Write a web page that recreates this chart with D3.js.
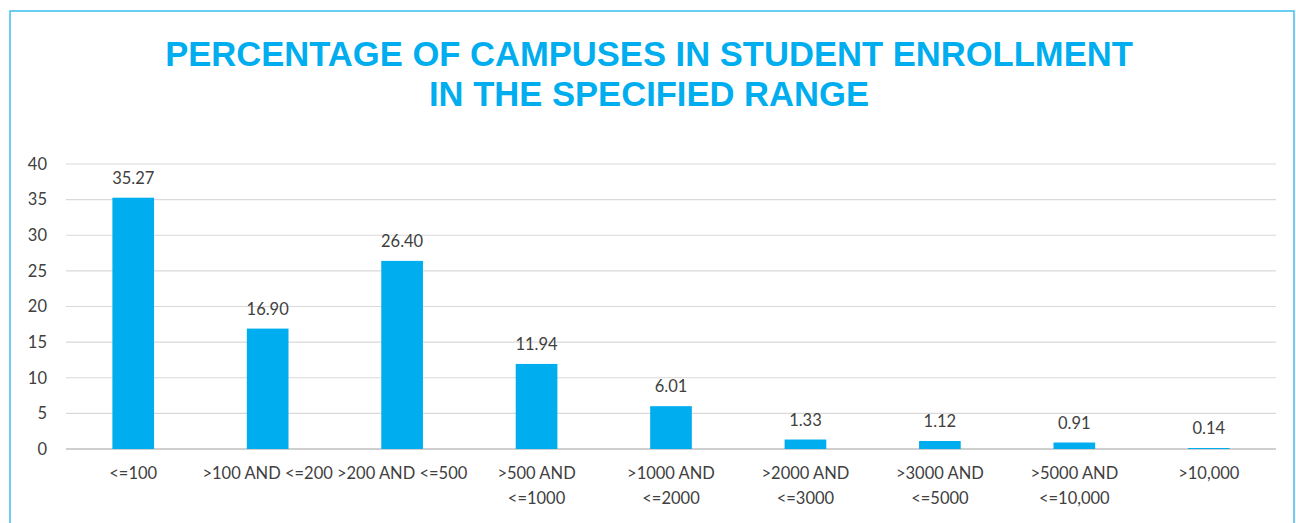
<!DOCTYPE html>
<html><head><meta charset="utf-8">
<script src="https://cdn.jsdelivr.net/npm/d3@7"></script>
<style>body{margin:0;background:#fff}</style>
</head><body>
<script>
const categories = ["<=100", ">100 AND <=200", ">200 AND <=500", ">500 AND\n<=1000", ">1000 AND\n<=2000", ">2000 AND\n<=3000", ">3000 AND\n<=5000", ">5000 AND\n<=10,000", ">10,000"];
const values = [35.27, 16.90, 26.40, 11.94, 6.01, 1.33, 1.12, 0.91, 0.14];
const yTicks = [0, 5, 10, 15, 20, 25, 30, 35, 40];
const titleLines = ["PERCENTAGE OF CAMPUSES IN STUDENT ENROLLMENT", "IN THE SPECIFIED RANGE"];

const W = 1296, H = 523;
const svg = d3.select("body").append("svg").attr("width", W).attr("height", H);
svg.append("rect").attr("x", 10).attr("y", 11).attr("width", 1284).attr("height", 530)
  .attr("fill", "#fff").attr("stroke", "#3dbdee").attr("stroke-width", 1.5);

const blue = "#00aeef";
svg.selectAll("text.title").data(titleLines).join("text")
  .attr("x", 649).attr("y", (d, i) => 66 + i * 39.5)
  .attr("text-anchor", "middle").attr("fill", blue)
  .style("font-family", "'Liberation Sans', Arial, sans-serif").style("font-weight", "bold").style("font-size", "34.6px")
  .text(d => d);

const x = d3.scaleBand().domain(categories).range([66, 1276]).paddingInner(0.69).paddingOuter(0.345);
const y = d3.scaleLinear().domain([0, 40]).range([449, 164]);

const font = "Lato, 'Open Sans', sans-serif";
const fs = "16.5px";
const grid = svg.append("g");
grid.selectAll("line").data(yTicks).join("line")
  .attr("x1", 66).attr("x2", 1276).attr("y1", d => y(d)).attr("y2", d => y(d))
  .attr("stroke", d => d === 0 ? "#bfbfbf" : "#d9d9d9").attr("stroke-width", d => d === 0 ? 1.5 : 1.2);

const yAxis = d3.axisLeft(y).tickValues(yTicks).tickSize(0).tickPadding(0);
const ga = svg.append("g").attr("transform", "translate(47,0)").call(yAxis);
ga.select(".domain").remove();
ga.selectAll("text").style("font-family", font).style("font-size", fs).attr("fill", "#404040");

svg.selectAll("rect.bar").data(values).join("rect").attr("class", "bar")
  .attr("x", (d, i) => x(categories[i])).attr("width", x.bandwidth())
  .attr("y", d => y(d)).attr("height", d => y(0) - y(d)).attr("fill", blue);

svg.selectAll("text.val").data(values).join("text")
  .attr("x", (d, i) => x(categories[i]) + x.bandwidth() / 2).attr("y", d => y(d) - 14)
  .attr("text-anchor", "middle").attr("fill", "#404040")
  .style("font-family", font).style("font-size", fs)
  .text(d => d.toFixed(2));

const xAxis = d3.axisBottom(x).tickSize(0).tickFormat("");
const gx = svg.append("g").attr("transform", "translate(0,449)").call(xAxis);
gx.select(".domain").remove();
categories.forEach(c => {
  const lines = c.split("\n");
  const t = svg.append("text").attr("text-anchor", "middle").attr("fill", "#404040")
    .style("font-family", font).style("font-size", fs);
  lines.forEach((l, j) => t.append("tspan").attr("x", x(c) + x.bandwidth() / 2).attr("y", 479 + j * 25).text(l));
});
</script>
</body></html>
